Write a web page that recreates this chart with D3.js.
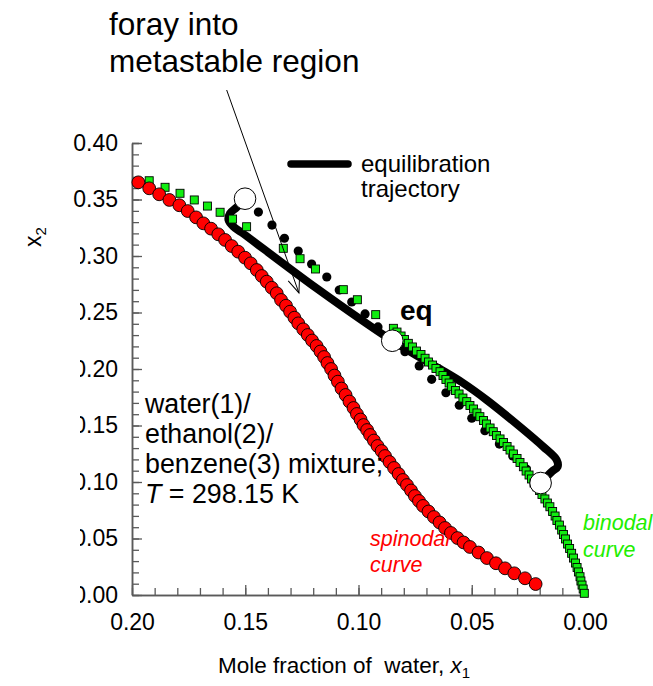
<!DOCTYPE html>
<html><head><meta charset="utf-8">
<script src="https://cdn.jsdelivr.net/npm/d3@7"></script>
<style>
body{margin:0;background:#fff;}
svg text{font-family:"Liberation Sans", Arial, Helvetica, sans-serif;}
</style></head><body>
<svg id="c" width="653" height="686"></svg>
<script>
// ---------- data ----------
const spinodalX = [0.1972,0.1924,0.1880,0.1835,0.1791,0.1754,0.1717,0.1685,0.1651,0.1619,0.1589,0.1560,0.1531,0.1501,0.1476,0.1449,0.1427,0.1405,0.1383,0.1361,0.1342,0.1320,0.1302,0.1283,0.1266,0.1244,0.1224,0.1205,0.1185,0.1168,0.1152,0.1137,0.1121,0.1106,0.1091,0.1075,0.1057,0.1040,0.1022,0.1007,0.0991,0.0978,0.0962,0.0949,0.0932,0.0916,0.0898,0.0883,0.0863,0.0843,0.0823,0.0804,0.0786,0.0768,0.0751,0.0733,0.0715,0.0691,0.0667,0.0642,0.0618,0.0592,0.0563,0.0536,0.0508,0.0470,0.0433,0.0393,0.0353,0.0312,0.0265,0.0218];
const spinodalY = [0.3652,0.3599,0.3546,0.3496,0.3449,0.3398,0.3342,0.3289,0.3242,0.3192,0.3142,0.3088,0.3038,0.2985,0.2935,0.2876,0.2823,0.2773,0.2719,0.2670,0.2611,0.2560,0.2507,0.2454,0.2404,0.2351,0.2301,0.2252,0.2204,0.2155,0.2106,0.2053,0.2000,0.1942,0.1888,0.1827,0.1770,0.1712,0.1655,0.1602,0.1553,0.1504,0.1460,0.1416,0.1367,0.1319,0.1274,0.1230,0.1177,0.1124,0.1071,0.1018,0.0973,0.0925,0.0876,0.0832,0.0788,0.0739,0.0690,0.0642,0.0593,0.0549,0.0504,0.0465,0.0425,0.0376,0.0327,0.0281,0.0236,0.0192,0.0148,0.0097];

const binodalX = [0.1924,0.1854,0.1788,0.1725,0.1667,0.1611,0.1556,0.1494,0.1332,0.1258,0.1190,0.1067,0.1005,0.0924,
  0.0846,0.0830,0.0812,0.0797,0.0780,0.0762,0.0744,0.0724,0.0706,0.0691,0.0673,0.0658,0.0640,0.0627,0.0614,0.0600,0.0589,0.0572,0.0556,0.0539,0.0522,0.0508,0.0492,0.0477,0.0464,0.0448,0.0435,0.0419,0.0405,0.0391,0.0375,0.0360,0.0344,0.0331,0.0316,0.0300,0.0287,0.0272,0.0260,0.0247,0.0236,0.0225,0.0213,0.0201,0.0190,0.0177,0.0166,0.0155,0.0143,0.0132,0.0124,0.0113,0.0103,0.0095,0.0086,0.0077,0.0068,0.0059,0.0051,0.0042,0.0035,0.0029,0.0022,0.0018,0.0013,0.0008,0.0003];
const binodalY = [0.3666,0.3608,0.3555,0.3496,0.3442,0.3387,0.3327,0.3259,0.3068,0.2976,0.2885,0.2702,0.2613,0.2481,
  0.2360,0.2327,0.2292,0.2261,0.2227,0.2195,0.2159,0.2128,0.2095,0.2062,0.2035,0.2004,0.1976,0.1942,0.1907,0.1876,0.1843,0.1810,0.1779,0.1743,0.1711,0.1677,0.1646,0.1611,0.1578,0.1544,0.1513,0.1478,0.1445,0.1412,0.1381,0.1350,0.1314,0.1283,0.1248,0.1208,0.1173,0.1135,0.1097,0.1062,0.1027,0.0991,0.0958,0.0925,0.0889,0.0850,0.0814,0.0781,0.0739,0.0699,0.0659,0.0619,0.0575,0.0535,0.0496,0.0451,0.0412,0.0369,0.0327,0.0283,0.0243,0.0204,0.0162,0.0124,0.0088,0.0053,0.0015];

const dotsX = [0.1442,0.1382,0.1327,0.1266,0.1207,0.1140,0.1085,0.1030,0.0971,0.0914,0.0795,0.0732,0.0677,0.0614,0.0555,0.0500,0.0442,0.0378,0.0319,0.0259];
const dotsY = [0.3389,0.3274,0.3157,0.3044,0.2929,0.2814,0.2699,0.2593,0.2487,0.2372,0.2153,0.2027,0.1909,0.1790,0.1679,0.1564,0.1454,0.1336,0.1230,0.1115];

const trajX = [0.1501,0.1538,0.1567,0.1574,0.1552,0.1515,0.1185,0.0851,0.0745,0.0640,0.0540,0.0434,0.0287,0.0184,0.0125,0.0121,0.0147,0.0196];
const trajY = [0.3507,0.3431,0.3378,0.3319,0.3260,0.3207,0.2714,0.2250,0.2122,0.2000,0.1878,0.1726,0.1489,0.1312,0.1195,0.1135,0.1091,0.0991];

const stateX = [0.1501,0.0851,0.0196];
const stateY = [0.3507,0.2250,0.0991];

const xMajorTicks = [0.20,0.15,0.10,0.05,0.00];
const xTickLabels = ["0.20","0.15","0.10","0.05","0.00"];
const yMajorTicks = [0.00,0.05,0.10,0.15,0.20,0.25,0.30,0.35,0.40];
const yTickLabels = ["0.00","0.05","0.10","0.15","0.20","0.25","0.30","0.35","0.40"];
const xMinorTicks = d3.range(0,21).map(i=>i/100);
const yMinorTicks = d3.range(0,41).map(i=>i/100);

const arrowX = [0.1582,0.1263];
const arrowY = [0.4469,0.2673];

// ---------- drawing ----------
const svg = d3.select("#c");
const x = d3.scaleLinear().domain([0.20,0]).range([132,585]);
const y = d3.scaleLinear().domain([0,0.40]).range([595,143]);
const axisColor = "#5a5a5a";

// axes
const ax = svg.append("g");
const xMinor = d3.axisBottom(x).tickValues(xMinorTicks).tickSize(-7).tickFormat("").tickSizeOuter(0);
const xMajor = d3.axisBottom(x).tickValues(xMajorTicks).tickSize(-10).tickSizeOuter(0).tickPadding(19)
  .tickFormat((d,i)=>xTickLabels[i]);
const gxm = ax.append("g").attr("transform","translate(0,595)").call(xMinor);
const gx = ax.append("g").attr("transform","translate(0,595)").call(xMajor);

const clip = svg.append("defs").append("clipPath").attr("id","yclip");
clip.append("rect").attr("x",0).attr("y",0).attr("width",653).attr("height",230);
clip.append("rect").attr("x",80).attr("y",230).attr("width",573).attr("height",456);
const yWrap = ax.append("g").attr("clip-path","url(#yclip)");
const yMinor = d3.axisLeft(y).tickValues(yMinorTicks).tickSize(-7).tickFormat("").tickSizeOuter(0);
const yMajor = d3.axisLeft(y).tickValues(yMajorTicks).tickSize(-10).tickSizeOuter(0).tickPadding(14)
  .tickFormat((d,i)=>yTickLabels[i]);
const gym = yWrap.append("g").attr("transform","translate(132,0)").call(yMinor);
const gy = yWrap.append("g").attr("transform","translate(132,0)").call(yMajor);

[gxm,gx,gym,gy].forEach(g=>{
  g.select(".domain").attr("stroke",axisColor).attr("stroke-width",1.5);
  g.selectAll(".tick line").attr("stroke",axisColor).attr("stroke-width",1.3);
  g.selectAll(".tick text").attr("fill","#000").style("font-size","23px").style("font-family","'Liberation Sans', Arial, sans-serif");
});

// trajectory thick line
const line = d3.line().x(d=>x(d[0])).y(d=>y(d[1])).curve(d3.curveCatmullRom.alpha(0.5));
svg.append("path").datum(trajX.map((v,i)=>[v,trajY[i]]))
  .attr("d",line).attr("fill","none").attr("stroke","#000").attr("stroke-width",8)
  .attr("stroke-linecap","round").attr("stroke-linejoin","round");

// dots
svg.append("g").selectAll("circle").data(dotsX.map((v,i)=>[v,dotsY[i]])).join("circle")
  .attr("cx",d=>x(d[0])).attr("cy",d=>y(d[1])).attr("r",4.6).attr("fill","#000");

// binodal squares
const sq = 8;
svg.append("g").selectAll("rect").data(binodalX.map((v,i)=>[v,binodalY[i]])).join("rect")
  .attr("x",d=>x(d[0])-sq/2).attr("y",d=>y(d[1])-sq/2).attr("width",sq).attr("height",sq)
  .attr("fill","#11ee11").attr("stroke","#000").attr("stroke-width",0.9);

// spinodal circles
svg.append("g").selectAll("circle").data(spinodalX.map((v,i)=>[v,spinodalY[i]])).join("circle")
  .attr("cx",d=>x(d[0])).attr("cy",d=>y(d[1])).attr("r",6.4)
  .attr("fill","#ff0000").attr("stroke","#000").attr("stroke-width",0.9);

// open state circles
svg.append("g").selectAll("circle").data(stateX.map((v,i)=>[v,stateY[i]])).join("circle")
  .attr("cx",d=>x(d[0])).attr("cy",d=>y(d[1])).attr("r",10.8)
  .attr("fill","#fff").attr("stroke","#000").attr("stroke-width",1);

// arrow
const defs = svg.select("defs");
defs.append("marker").attr("id","ah").attr("markerUnits","userSpaceOnUse")
  .attr("viewBox","-20 -10 22 20").attr("refX",0).attr("refY",0)
  .attr("markerWidth",22).attr("markerHeight",20).attr("orient","auto")
  .append("path").attr("d","M-15,-6 L0,0 L-15,6").attr("fill","none").attr("stroke","#000").attr("stroke-width",1);
svg.append("line").attr("x1",x(arrowX[0])).attr("y1",y(arrowY[0]))
  .attr("x2",x(arrowX[1])).attr("y2",y(arrowY[1]))
  .attr("stroke","#000").attr("stroke-width",1).attr("marker-end","url(#ah)");

// legend
svg.append("line").attr("x1",291).attr("y1",164).attr("x2",348).attr("y2",164)
  .attr("stroke","#000").attr("stroke-width",7.5).attr("stroke-linecap","round");
svg.append("text").attr("x",361).attr("y",172).style("font-size","24px").text("equilibration");
svg.append("text").attr("x",361).attr("y",197).style("font-size","24px").text("trajectory");

// annotations
svg.append("text").attr("x",109).attr("y",35).style("font-size","31.5px").text("foray into");
svg.append("text").attr("x",109).attr("y",72).style("font-size","31.5px").text("metastable region");

svg.append("text").attr("x",400).attr("y",320).style("font-size","28px").style("font-weight","bold").text("eq");

const blk = [["water(1)/",413],["ethanol(2)/",443],["benzene(3) mixture;",473]];
blk.forEach(b=>svg.append("text").attr("x",145).attr("y",b[1]).style("font-size","26.8px").text(b[0]));
const tl = svg.append("text").attr("x",145).attr("y",503).style("font-size","26.8px");
tl.append("tspan").style("font-style","italic").text("T");
tl.append("tspan").text(" = 298.15 K");

svg.append("text").attr("x",370).attr("y",546).style("font-size","21.5px").style("font-style","italic").attr("fill","#ff0000").text("spinodal");
svg.append("text").attr("x",370).attr("y",572).style("font-size","21.5px").style("font-style","italic").attr("fill","#ff0000").text("curve");
svg.append("text").attr("x",583).attr("y",530).style("font-size","21.5px").style("font-style","italic").attr("fill","#22ee00").text("binodal");
svg.append("text").attr("x",583).attr("y",557).style("font-size","21.5px").style("font-style","italic").attr("fill","#22ee00").text("curve");

// axis titles
const xt = svg.append("text").attr("x",218).attr("y",673).style("font-size","22.5px").style("white-space","pre");
xt.append("tspan").text("Mole fraction of  water, ");
xt.append("tspan").style("font-style","italic").text("x");
xt.append("tspan").attr("dy",5).style("font-size","15px").text("1");

const yt = svg.append("text").attr("transform","translate(41,237) rotate(-90)").attr("text-anchor","middle").style("font-size","23px");
yt.append("tspan").text("x");
yt.append("tspan").attr("dy",5).style("font-size","15px").text("2");
</script>
</body></html>
